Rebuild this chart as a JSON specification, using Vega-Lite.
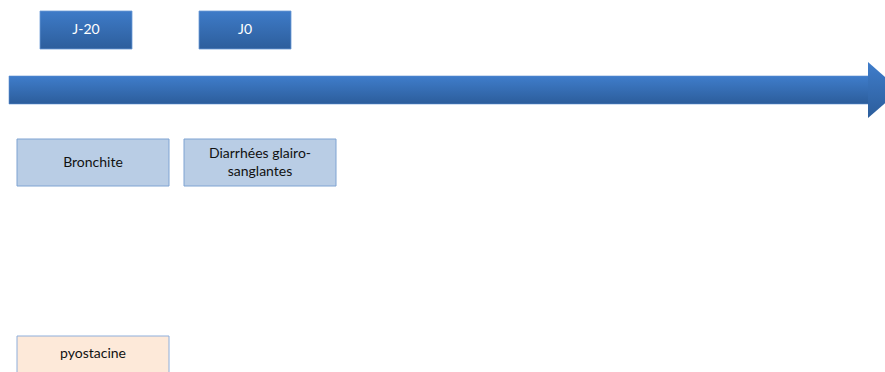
{
  "$schema": "https://vega.github.io/schema/vega-lite/v6.json",
  "width": 885,
  "height": 372,
  "padding": 0,
  "autosize": {"type": "fit", "contains": "padding"},
  "background": "white",
  "config": {"view": {"stroke": null}},
  "datasets": {
    "boxes": [
      {"label": "J-20", "kind": "day", "x0": 40, "x1": 132, "y0": 11, "y1": 49},
      {"label": "J0", "kind": "day", "x0": 199, "x1": 291, "y0": 11, "y1": 49},
      {"label": "Bronchite", "kind": "event", "x0": 17, "x1": 169, "y0": 139, "y1": 186},
      {"label": "Diarrhées glairo-\nsanglantes", "kind": "event", "x0": 184, "x1": 336, "y0": 139, "y1": 186},
      {"label": "pyostacine", "kind": "drug", "x0": 17, "x1": 169, "y0": 336, "y1": 386}
    ],
    "body": [{"x0": 9, "x1": 869, "y0": 76, "y1": 104}],
    "head": [
      {"x": 868, "ytop": 62, "ybot": 118},
      {"x": 900, "ytop": 90, "ybot": 90}
    ]
  },
  "layer": [
    {
      "data": {"name": "body"},
      "mark": {"type": "rect", "clip": true, "color": {"gradient": "linear", "x1": 0, "y1": 0, "x2": 0, "y2": 1, "stops": [{"offset": 0, "color": "#3f7dcb"}, {"offset": 1, "color": "#2c5d9b"}]}, "stroke": "#5b8fd0", "strokeWidth": 0.6},
      "encoding": {
        "x": {"field": "x0", "type": "quantitative", "scale": {"domain": [0, 885], "nice": false, "zero": false}, "axis": null},
        "x2": {"field": "x1"},
        "y": {"field": "y0", "type": "quantitative", "scale": {"domain": [0, 372], "nice": false, "zero": false, "reverse": true}, "axis": null},
        "y2": {"field": "y1"}
      }
    },
    {
      "data": {"name": "head"},
      "mark": {"type": "area", "clip": true, "orient": "vertical", "color": {"gradient": "linear", "x1": 0, "y1": 0, "x2": 0, "y2": 1, "stops": [{"offset": 0, "color": "#3f7dcb"}, {"offset": 1, "color": "#2c5d9b"}]}},
      "encoding": {
        "x": {"field": "x", "type": "quantitative", "scale": {"domain": [0, 885], "nice": false, "zero": false}, "axis": null},
        "y": {"field": "ytop", "type": "quantitative", "scale": {"domain": [0, 372], "nice": false, "zero": false, "reverse": true}, "axis": null},
        "y2": {"field": "ybot"}
      }
    },
    {
      "data": {"name": "boxes"},
      "transform": [{"filter": "datum.kind === 'day'"}],
      "mark": {"type": "rect", "clip": true, "color": {"gradient": "linear", "x1": 0, "y1": 0, "x2": 0, "y2": 1, "stops": [{"offset": 0, "color": "#3e7bc8"}, {"offset": 1, "color": "#2d5e9c"}]}, "stroke": "#6a9ad6", "strokeWidth": 0.8},
      "encoding": {
        "x": {"field": "x0", "type": "quantitative", "scale": {"domain": [0, 885], "nice": false, "zero": false}, "axis": null},
        "x2": {"field": "x1"},
        "y": {"field": "y0", "type": "quantitative", "scale": {"domain": [0, 372], "nice": false, "zero": false, "reverse": true}, "axis": null},
        "y2": {"field": "y1"}
      }
    },
    {
      "data": {"name": "boxes"},
      "transform": [{"filter": "datum.kind !== 'day'"}],
      "mark": {"type": "rect", "clip": true, "strokeWidth": 1},
      "encoding": {
        "x": {"field": "x0", "type": "quantitative", "scale": {"domain": [0, 885], "nice": false, "zero": false}, "axis": null},
        "x2": {"field": "x1"},
        "y": {"field": "y0", "type": "quantitative", "scale": {"domain": [0, 372], "nice": false, "zero": false, "reverse": true}, "axis": null},
        "y2": {"field": "y1"},
        "fill": {"field": "kind", "type": "nominal", "scale": {"domain": ["event", "drug"], "range": ["#b9cde5", "#fde9d9"]}, "legend": null},
        "stroke": {"field": "kind", "type": "nominal", "scale": {"domain": ["event", "drug"], "range": ["#7ea3d2", "#8eaedb"]}, "legend": null},
        "opacity": {"value": 1}
      }
    },
    {
      "data": {"name": "boxes"},
      "transform": [{"filter": "indexof(datum.label, '\\n') < 0"}, {"calculate": "(datum.x0 + datum.x1) / 2", "as": "xc"}, {"calculate": "(datum.y0 + min(datum.y1, 372)) / 2", "as": "yc"}],
      "mark": {"type": "text", "font": "Lato", "fontSize": 14, "align": "center", "baseline": "middle"},
      "encoding": {
        "x": {"field": "xc", "type": "quantitative", "scale": {"domain": [0, 885], "nice": false, "zero": false}, "axis": null},
        "y": {"field": "yc", "type": "quantitative", "scale": {"domain": [0, 372], "nice": false, "zero": false, "reverse": true}, "axis": null},
        "text": {"field": "label"},
        "color": {"field": "kind", "type": "nominal", "scale": {"domain": ["day", "event", "drug"], "range": ["#ffffff", "#111111", "#111111"]}, "legend": null}
      }
    },
    {
      "data": {"name": "boxes"},
      "transform": [{"filter": "indexof(datum.label, '\\n') >= 0"}, {"calculate": "(datum.x0 + datum.x1) / 2", "as": "xc"}, {"calculate": "(datum.y0 + min(datum.y1, 372)) / 2", "as": "yc"}],
      "mark": {"type": "text", "font": "Lato", "fontSize": 14, "lineBreak": "\n", "lineHeight": 18, "align": "center", "baseline": "middle", "dy": -9, "color": "#111111"},
      "encoding": {
        "x": {"field": "xc", "type": "quantitative", "scale": {"domain": [0, 885], "nice": false, "zero": false}, "axis": null},
        "y": {"field": "yc", "type": "quantitative", "scale": {"domain": [0, 372], "nice": false, "zero": false, "reverse": true}, "axis": null},
        "text": {"field": "label"}
      }
    }
  ]
}
